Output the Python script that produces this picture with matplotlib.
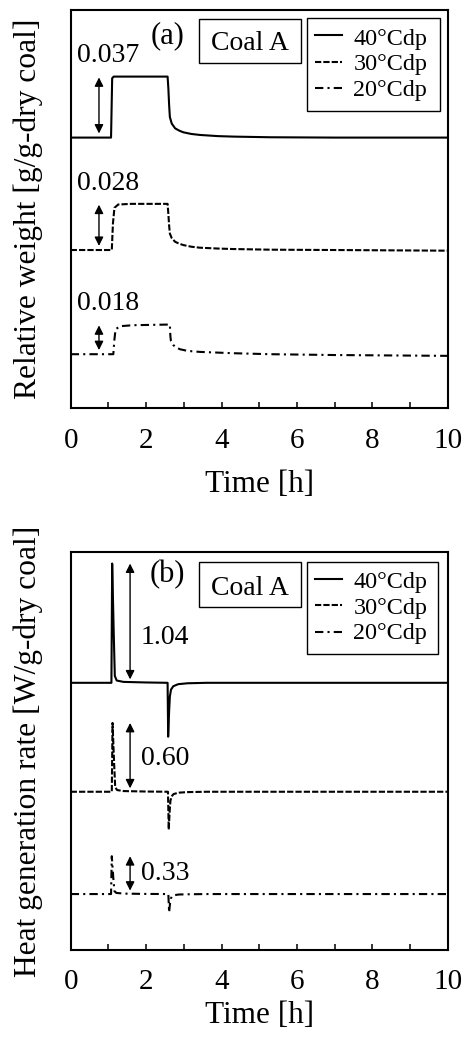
import numpy as np
import matplotlib
matplotlib.use("Agg")
import matplotlib.pyplot as plt
from matplotlib.lines import Line2D
from matplotlib.patches import Rectangle

plt.rcParams['font.family'] = ['Liberation Serif', 'DejaVu Serif']

# ---- data (values relative to each curve's own baseline) ----
series_labels = ["40\u00b0Cdp", "30\u00b0Cdp", "20\u00b0Cdp"]

# (a) relative weight change [g/g-dry coal]
wt_t_40 = [0, 1.07, 1.10, 1.14, 2.57, 2.59, 2.61, 2.63, 2.68, 2.77, 2.88, 2.99, 3.2, 3.43, 3.9, 4.31, 5.3, 7.0, 10.0]
wt_40 = [0, 0, 0.0360, 0.037, 0.037, 0.030, 0.020, 0.0125, 0.0085, 0.0056, 0.0042, 0.0032, 0.0022, 0.0016, 0.0009, 0.0006, 0.0002, 0.0, 0.0]

wt_t_30 = [0, 1.09, 1.12, 1.16, 1.26, 1.6, 2.57, 2.59, 2.61, 2.63, 2.68, 2.77, 2.88, 2.99, 3.2, 3.43, 3.9, 4.31, 5.3, 7.0, 10.0]
wt_30 = [0, 0, 0.016, 0.0256, 0.0276, 0.028, 0.028, 0.022, 0.015, 0.0100, 0.0072, 0.0050, 0.0038, 0.0030, 0.0020, 0.0014, 0.0009, 0.0006, 0.0002, 0.0, -0.0004]

wt_t_20 = [0, 1.13, 1.16, 1.19, 1.31, 1.66, 2.63, 2.645, 2.66, 2.72, 2.80, 2.9, 3.1, 3.43, 4.31, 5.3, 7.0, 10.0]
wt_20 = [0, 0, 0.009, 0.0151, 0.0170, 0.0176, 0.018, 0.0106, 0.0080, 0.0056, 0.0040, 0.0030, 0.0020, 0.0014, 0.0006, 0.0, -0.0005, -0.0010]

# (b) heat generation rate [W/g-dry coal]
hr_t_40 = [0, 1.08, 1.10, 1.14, 1.17, 1.22, 1.4, 2.0, 2.57, 2.585, 2.61, 2.63, 2.66, 2.72, 2.85, 3.1, 3.6, 10.0]
hr_40 = [0, 0, 1.04, 0.45, 0.06, 0.02, 0.008, 0.003, 0, -0.47, -0.25, -0.12, -0.06, -0.03, -0.012, -0.004, 0, 0]

hr_t_30 = [0, 1.09, 1.11, 1.15, 1.18, 1.23, 1.4, 2.0, 2.58, 2.60, 2.625, 2.645, 2.675, 2.73, 2.86, 3.1, 3.6, 10.0]
hr_30 = [0, 0, 0.60, 0.26, 0.04, 0.015, 0.006, 0.002, 0, -0.33, -0.17, -0.08, -0.04, -0.02, -0.008, -0.003, 0, 0]

hr_t_20 = [0, 1.07, 1.09, 1.13, 1.16, 1.21, 1.4, 2.0, 2.59, 2.61, 2.635, 2.655, 2.685, 2.74, 2.87, 3.1, 3.6, 10.0]
hr_20 = [0, 0, 0.33, 0.14, 0.025, 0.01, 0.004, 0.001, 0, -0.16, -0.08, -0.04, -0.02, -0.01, -0.004, -0.002, 0, 0]

peak_wt = [0.037, 0.028, 0.018]
peak_hr = [1.04, 0.60, 0.33]
peak_wt_labels = ["0.037", "0.028", "0.018"]
peak_hr_labels = ["1.04", "0.60", "0.33"]

# ---- layout / styles ----
styles = ["-", (0, (3, 1)), (0, (4, 2, 1, 2))]
lw = 1.5
base_wt = [0.1642, 0.0960, 0.0328]
base_hr = [2.330, 1.380, 0.488]
ylim_wt = (0, 0.2416)
ylim_hr = (0, 3.473)
AX_H = 398.3  # axes height in px

fig = plt.figure(figsize=(4.63, 10.41), dpi=100)
ax_a = fig.add_axes([0.1527, 0.6078, 0.8143, 0.3826])
ax_b = fig.add_axes([0.1527, 0.0874, 0.8143, 0.3826])


def style_axes(ax, ylabel, ylim, xpad):
    ax.set_xlim(0, 10)
    ax.set_ylim(*ylim)
    ax.set_xticks([0, 2, 4, 6, 8, 10])
    ax.set_xticks([1, 3, 5, 7, 9], minor=True)
    ax.set_yticks([])
    ax.tick_params(axis='x', which='both', direction='in', length=4.5, width=1.1,
                   labelsize=21, pad=14)
    for s in ax.spines.values():
        s.set_linewidth(1.5)
    ax.set_xlabel("Time [h]", fontsize=22.5, labelpad=xpad)
    ax.set_ylabel(ylabel, fontsize=22.7, labelpad=20)


def add_box_and_legend(ax, tag, tag_y, coal_box, coal_y, leg_box):
    tr = ax.transAxes
    ax.text(0.2568, tag_y, tag, transform=tr, fontsize=22, ha='center', va='baseline')
    x0, y0, x1, y1 = coal_box
    ax.add_patch(Rectangle((x0, y0), x1 - x0, y1 - y0, transform=tr, fill=True,
                           fc='white', ec='black', lw=1.0, zorder=3))
    ax.text((x0 + x1) / 2, coal_y, "Coal A", transform=tr, fontsize=20,
            ha='center', va='baseline', zorder=4)
    x0, y0, x1, y1 = leg_box
    ax.add_patch(Rectangle((x0, y0), x1 - x0, y1 - y0, transform=tr, fill=True,
                           fc='white', ec='black', lw=1.0, zorder=3))
    for i, (st, lab) in enumerate(zip(styles, series_labels)):
        ly = y1 - (17 + 26.5 * i) / AX_H
        ax.add_line(Line2D([0.648, 0.7188], [ly, ly], transform=tr, color='black',
                           lw=lw, ls=st, zorder=4))
        ty = y1 - (26.5 + 25.5 * i) / AX_H
        ax.text(0.7496, ty, lab, transform=tr, fontsize=17.4, ha='left',
                va='baseline', zorder=4)


arrow_props = dict(arrowstyle='<|-|>', color='black', lw=1.0,
                   mutation_scale=13, shrinkA=0, shrinkB=0)

# (a)
wt_ts = [wt_t_40, wt_t_30, wt_t_20]
wt_vs = [wt_40, wt_30, wt_20]
for t, v, b, st in zip(wt_ts, wt_vs, base_wt, styles):
    ax_a.plot(t, np.array(v) + b, color='black', lw=lw, ls=st)
for b, p, lab in zip(base_wt, peak_wt, peak_wt_labels):
    ax_a.annotate('', xy=(0.75, b + p - 0.0005), xytext=(0.75, b + 0.0025),
                  arrowprops=arrow_props)
    ax_a.text(0.16, b + p + 0.0125, lab, fontsize=20, ha='left', va='center')
style_axes(ax_a, "Relative weight [g/g-dry coal]", ylim_wt, 12)
add_box_and_legend(ax_a, "(a)", 0.9171, (0.3411, 0.8662, 0.6109, 0.9774), 0.8996,
                   (0.6273, 0.7464, 0.9796, 0.9791))

# (b)
hr_ts = [hr_t_40, hr_t_30, hr_t_20]
hr_vs = [hr_40, hr_30, hr_20]
for t, v, b, st in zip(hr_ts, hr_vs, base_hr, styles):
    ax_b.plot(t, np.array(v) + b, color='black', lw=lw, ls=st)
text_frac = [0.38, 0.49, 0.55]
for b, p, lab, f in zip(base_hr, peak_hr, peak_hr_labels, text_frac):
    ax_b.annotate('', xy=(1.575, b + p), xytext=(1.575, b + 0.03),
                  arrowprops=arrow_props)
    ax_b.text(1.86, b + p * f, lab, fontsize=20, ha='left', va='center')
style_axes(ax_b, "Heat generation rate [W/g-dry coal]", ylim_hr, 4)
add_box_and_legend(ax_b, "(b)", 0.9247, (0.3411, 0.8604, 0.6109, 0.9749), 0.8913,
                   (0.626, 0.7424, 0.975, 0.9749))

fig.savefig("out.png", dpi=100)
